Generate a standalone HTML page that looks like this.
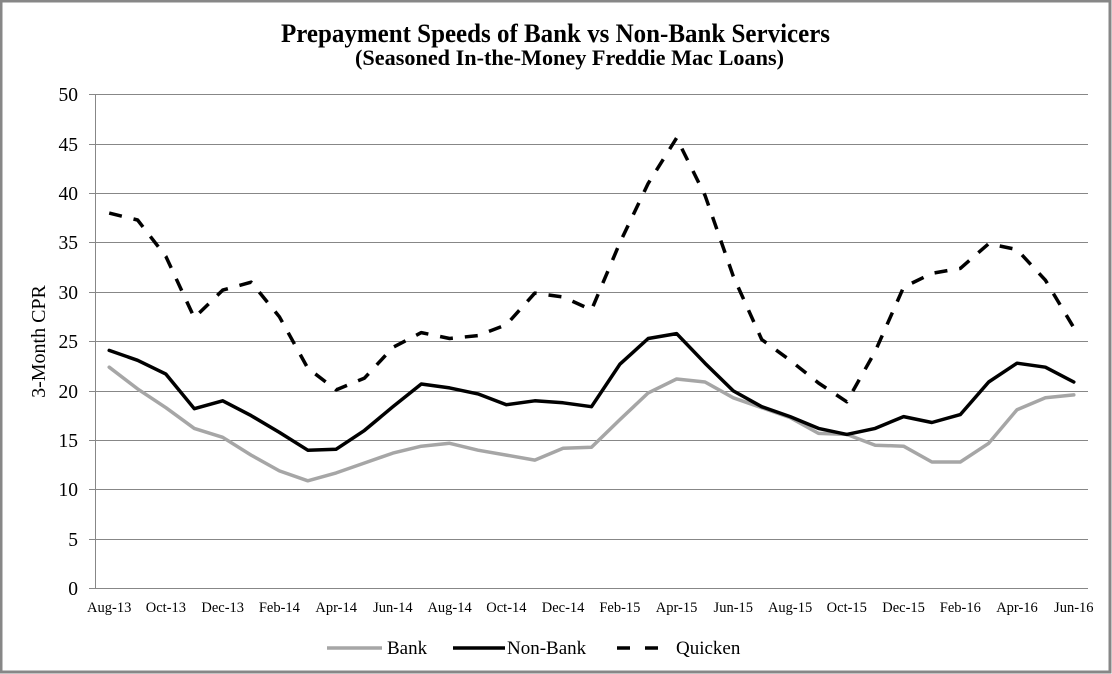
<!DOCTYPE html>
<html>
<head>
<meta charset="utf-8">
<style>
  html, body { margin: 0; padding: 0; background: #fff; }
  svg { display: block; }
  text { font-family: "Liberation Serif", "Times New Roman", serif; fill: #000; }
</style>
</head>
<body>
<svg width="1112" height="674" viewBox="0 0 1112 674" xmlns="http://www.w3.org/2000/svg">
  <rect x="0" y="0" width="1112" height="674" fill="#fff"/>
  <rect x="1" y="1" width="1109" height="671" fill="none" stroke="#878787" stroke-width="3"/>

  <!-- Title -->
  <text x="555.5" y="42" text-anchor="middle" font-size="26" font-weight="bold" textLength="549" lengthAdjust="spacingAndGlyphs">Prepayment Speeds of Bank vs Non-Bank Servicers</text>
  <text x="569.5" y="65" text-anchor="middle" font-size="22" font-weight="bold" textLength="429" lengthAdjust="spacingAndGlyphs">(Seasoned In-the-Money  Freddie Mac Loans)</text>

  <!-- Gridlines -->
  <g stroke="#878787" stroke-width="1">
    <line x1="89" y1="94.5" x2="1088" y2="94.5"/>
    <line x1="89" y1="144.5" x2="1088" y2="144.5"/>
    <line x1="89" y1="193.5" x2="1088" y2="193.5"/>
    <line x1="89" y1="242.5" x2="1088" y2="242.5"/>
    <line x1="89" y1="292.5" x2="1088" y2="292.5"/>
    <line x1="89" y1="341.5" x2="1088" y2="341.5"/>
    <line x1="89" y1="391.5" x2="1088" y2="391.5"/>
    <line x1="89" y1="440.5" x2="1088" y2="440.5"/>
    <line x1="89" y1="489.5" x2="1088" y2="489.5"/>
    <line x1="89" y1="539.5" x2="1088" y2="539.5"/>
    <line x1="89" y1="588.5" x2="1088" y2="588.5"/>
    <line x1="95.5" y1="94.5" x2="95.5" y2="588.5"/>
  </g>

  <!-- Y tick labels -->
  <g font-size="19.5" text-anchor="end">
    <text x="78" y="101">50</text>
    <text x="78" y="151">45</text>
    <text x="78" y="200">40</text>
    <text x="78" y="249">35</text>
    <text x="78" y="299">30</text>
    <text x="78" y="348">25</text>
    <text x="78" y="398">20</text>
    <text x="78" y="447">15</text>
    <text x="78" y="496">10</text>
    <text x="78" y="546">5</text>
    <text x="78" y="595">0</text>
  </g>

  <!-- Y axis title -->
  <text x="0" y="0" font-size="20" text-anchor="middle" transform="translate(45,341.5) rotate(-90)">3-Month CPR</text>

  <!-- X tick labels -->
  <g font-size="14.5" text-anchor="middle">
    <text x="109.2" y="612">Aug-13</text>
    <text x="165.9" y="612">Oct-13</text>
    <text x="222.7" y="612">Dec-13</text>
    <text x="279.4" y="612">Feb-14</text>
    <text x="336.2" y="612">Apr-14</text>
    <text x="392.9" y="612">Jun-14</text>
    <text x="449.6" y="612">Aug-14</text>
    <text x="506.4" y="612">Oct-14</text>
    <text x="563.1" y="612">Dec-14</text>
    <text x="619.9" y="612">Feb-15</text>
    <text x="676.6" y="612">Apr-15</text>
    <text x="733.3" y="612">Jun-15</text>
    <text x="790.1" y="612">Aug-15</text>
    <text x="846.8" y="612">Oct-15</text>
    <text x="903.6" y="612">Dec-15</text>
    <text x="960.3" y="612">Feb-16</text>
    <text x="1017.0" y="612">Apr-16</text>
    <text x="1073.8" y="612">Jun-16</text>
  </g>

  <!-- Series: Bank -->
  <polyline fill="none" stroke="#a6a6a6" stroke-width="3.5" stroke-linejoin="round" stroke-linecap="round"
    points="109.2,367.2 137.6,388.9 165.9,407.7 194.3,428.4 222.7,437.3 251.1,455.1 279.4,470.9 307.8,480.8 336.2,472.9 364.5,463.0 392.9,453.1 421.3,446.2 449.6,443.3 478.0,450.2 506.4,455.1 534.8,460.1 563.1,448.2 591.5,447.2 619.9,419.6 648.2,392.9 676.6,379.0 705.0,382.0 733.3,397.8 761.7,407.7 790.1,417.6 818.5,433.4 846.8,434.4 875.2,445.2 903.6,446.2 931.9,462.0 960.3,462.0 988.7,443.3 1017.0,409.7 1045.4,397.8 1073.8,394.9"/>

  <!-- Series: Non-Bank -->
  <polyline fill="none" stroke="#000" stroke-width="3.5" stroke-linejoin="round" stroke-linecap="round"
    points="109.2,350.4 137.6,360.3 165.9,374.1 194.3,408.7 222.7,400.8 251.1,415.6 279.4,432.4 307.8,450.2 336.2,449.2 364.5,430.4 392.9,406.7 421.3,384.0 449.6,387.9 478.0,393.9 506.4,404.7 534.8,400.8 563.1,402.8 591.5,406.7 619.9,364.2 648.2,338.5 676.6,333.6 705.0,363.2 733.3,390.9 761.7,406.7 790.1,416.6 818.5,428.4 846.8,434.4 875.2,428.4 903.6,416.6 931.9,422.5 960.3,414.6 988.7,382.0 1017.0,363.2 1045.4,367.2 1073.8,382.0"/>

  <!-- Series: Quicken -->
  <polyline fill="none" stroke="#000" stroke-width="3.5" stroke-linejoin="round" stroke-dasharray="13,12"
    points="109.2,213.1 137.6,220.0 165.9,256.5 194.3,317.8 222.7,290.1 251.1,282.2 279.4,316.8 307.8,368.2 336.2,389.9 364.5,378.1 392.9,347.4 421.3,332.6 449.6,338.5 478.0,335.6 506.4,324.7 534.8,293.1 563.1,297.0 591.5,309.9 619.9,242.7 648.2,183.4 676.6,138.0 705.0,195.3 733.3,276.3 761.7,339.5 790.1,360.3 818.5,383.0 846.8,401.8 875.2,351.4 903.6,287.2 931.9,273.3 960.3,268.4 988.7,243.7 1017.0,249.6 1045.4,280.2 1073.8,327.7"/>

  <!-- Legend -->
  <line x1="327" y1="648" x2="382" y2="648" stroke="#a6a6a6" stroke-width="3.5"/>
  <text x="387" y="654" font-size="19">Bank</text>
  <line x1="453" y1="648" x2="505" y2="648" stroke="#000" stroke-width="3.5"/>
  <text x="507" y="654" font-size="19">Non-Bank</text>
  <line x1="617" y1="648" x2="630" y2="648" stroke="#000" stroke-width="3.5"/>
  <line x1="645" y1="648" x2="658" y2="648" stroke="#000" stroke-width="3.5"/>
  <text x="676" y="654" font-size="19">Quicken</text>
</svg>
</body>
</html>
